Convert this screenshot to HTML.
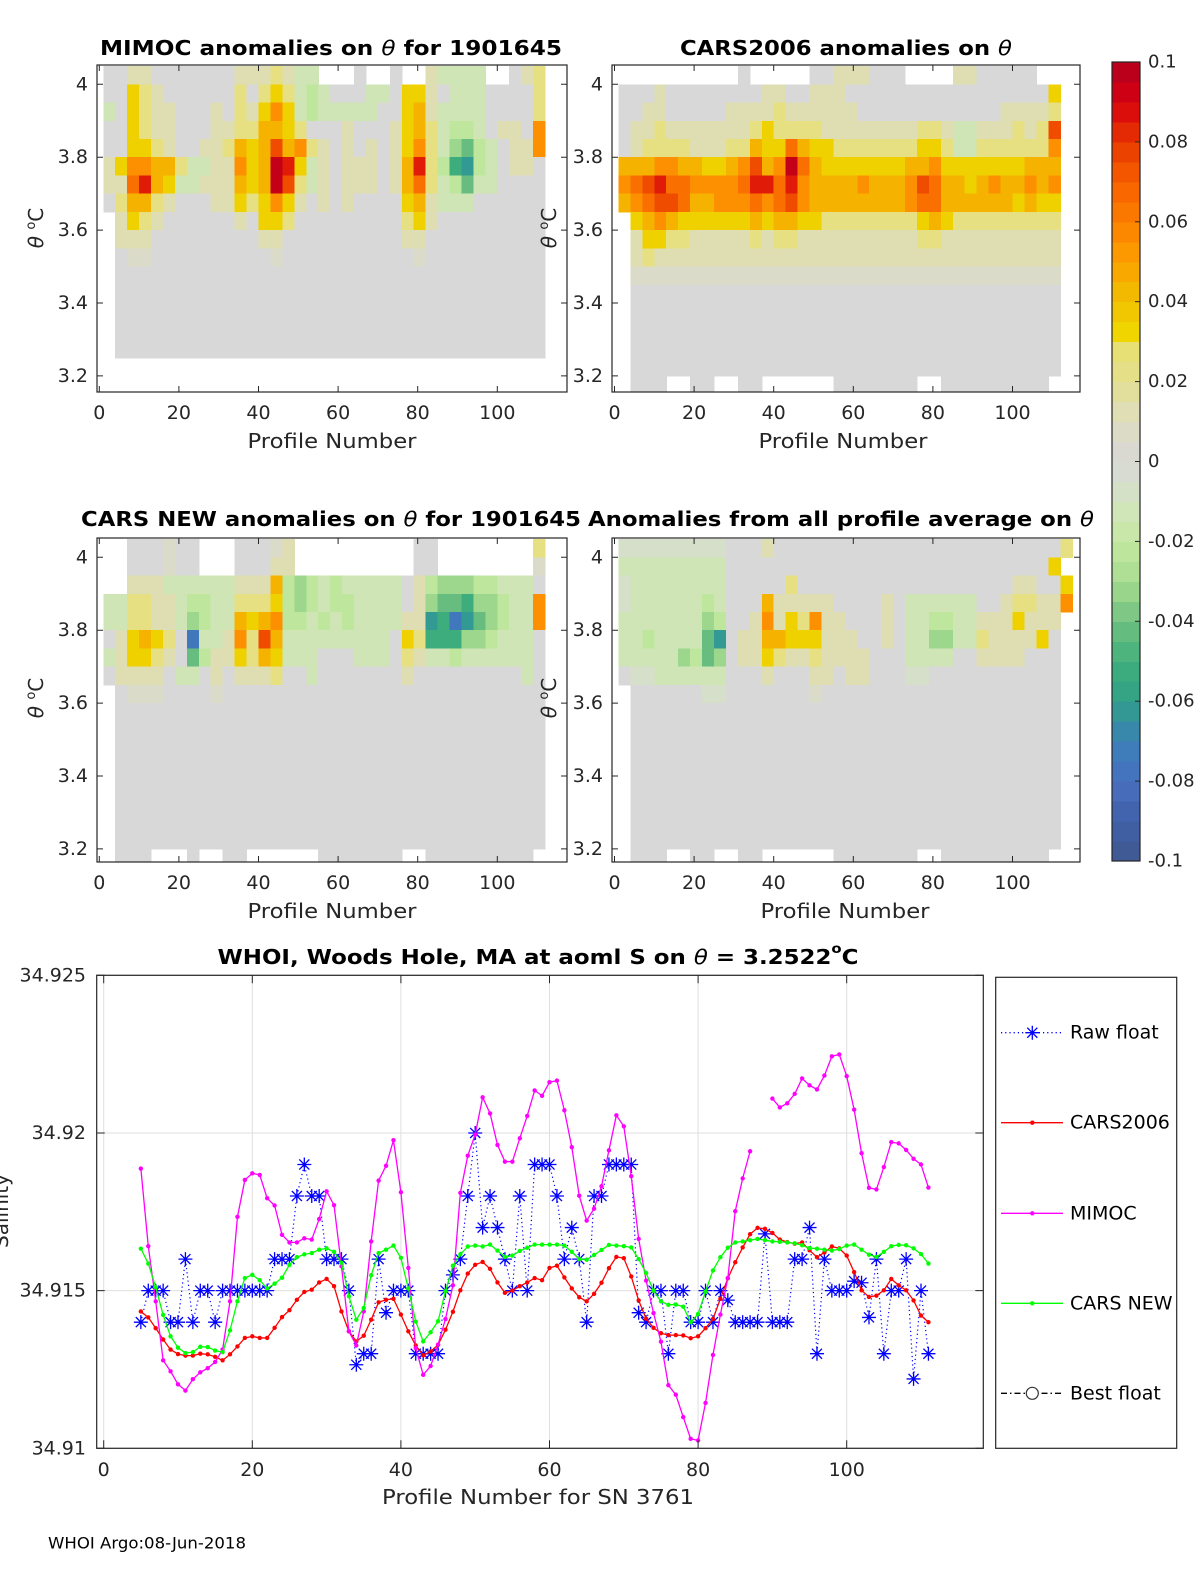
<!DOCTYPE html>
<html><head><meta charset="utf-8"><title>WHOI float 1901645 anomalies</title>
<style>
body{margin:0;background:#fff;}
svg{display:block;font-family:"DejaVu Sans","Liberation Sans",sans-serif;}
.ttl{font-weight:bold;font-size:20px;fill:#000;}
.lbl{font-size:20px;fill:#262626;}
.tick{font-size:19px;fill:#262626;}
</style></head>
<body>
<svg id="fig" xmlns="http://www.w3.org/2000/svg" width="1200" height="1575" viewBox="0 0 1200 1575">
<rect x="0" y="0" width="1200" height="1575" fill="#ffffff"/>
<defs>
<clipPath id="clip-mimoc"><rect x="97" y="65" width="470" height="327"/></clipPath>
<clipPath id="clip-cars2006"><rect x="612" y="65" width="468" height="327"/></clipPath>
<clipPath id="clip-carsnew"><rect x="97" y="538" width="470" height="324"/></clipPath>
<clipPath id="clip-allavg"><rect x="612" y="538" width="468" height="324"/></clipPath>
<clipPath id="clip-sal"><rect x="96.7" y="975.3" width="886.6" height="473"/></clipPath>
</defs>
<g id="heat-layer"></g>
<g id="axes-layer"></g>

<text class="ttl" x="331" y="48" text-anchor="middle" dominant-baseline="central" textLength="462" lengthAdjust="spacingAndGlyphs">MIMOC anomalies on <tspan font-style="italic" font-weight="normal">θ</tspan>  for 1901645</text>
<text class="ttl" x="846" y="48" text-anchor="middle" dominant-baseline="central" textLength="332" lengthAdjust="spacingAndGlyphs">CARS2006 anomalies on <tspan font-style="italic" font-weight="normal">θ</tspan></text>
<text class="ttl" x="331" y="519" text-anchor="middle" dominant-baseline="central" textLength="500" lengthAdjust="spacingAndGlyphs">CARS NEW anomalies on <tspan font-style="italic" font-weight="normal">θ</tspan> for 1901645</text>
<text class="ttl" x="841" y="519" text-anchor="middle" dominant-baseline="central" textLength="506" lengthAdjust="spacingAndGlyphs">Anomalies from all profile average on <tspan font-style="italic" font-weight="normal">θ</tspan></text>

<text class="lbl" x="332" y="441" text-anchor="middle" dominant-baseline="central" textLength="169" lengthAdjust="spacingAndGlyphs">Profile Number</text>
<text class="lbl" x="843" y="441" text-anchor="middle" dominant-baseline="central" textLength="169" lengthAdjust="spacingAndGlyphs">Profile Number</text>
<text class="lbl" x="332" y="911" text-anchor="middle" dominant-baseline="central" textLength="169" lengthAdjust="spacingAndGlyphs">Profile Number</text>
<text class="lbl" x="845" y="911" text-anchor="middle" dominant-baseline="central" textLength="169" lengthAdjust="spacingAndGlyphs">Profile Number</text>

<text class="lbl" transform="translate(43,228) rotate(-90)" text-anchor="middle"><tspan font-style="italic">θ</tspan> <tspan font-size="13" dy="-8">o</tspan><tspan dy="8">C</tspan></text>
<text class="lbl" transform="translate(556,228) rotate(-90)" text-anchor="middle"><tspan font-style="italic">θ</tspan> <tspan font-size="13" dy="-8">o</tspan><tspan dy="8">C</tspan></text>
<text class="lbl" transform="translate(43,698) rotate(-90)" text-anchor="middle"><tspan font-style="italic">θ</tspan> <tspan font-size="13" dy="-8">o</tspan><tspan dy="8">C</tspan></text>
<text class="lbl" transform="translate(556,698) rotate(-90)" text-anchor="middle"><tspan font-style="italic">θ</tspan> <tspan font-size="13" dy="-8">o</tspan><tspan dy="8">C</tspan></text>

<g id="cbar"></g>

<g id="sal-grid"></g>
<g id="sal-series" clip-path="url(#clip-sal)"></g>
<g id="sal-axes"></g>
<text class="ttl" x="538" y="957" text-anchor="middle" dominant-baseline="central" textLength="641" lengthAdjust="spacingAndGlyphs">WHOI, Woods Hole, MA at aoml S on <tspan font-style="italic" font-weight="normal">θ</tspan> = 3.2522<tspan font-size="13" dy="-8">o</tspan><tspan dy="8">C</tspan></text>
<text class="lbl" x="538" y="1497" text-anchor="middle" dominant-baseline="central" textLength="312" lengthAdjust="spacingAndGlyphs">Profile Number for SN 3761</text>
<text class="lbl" transform="translate(8,1211) rotate(-90)" text-anchor="middle">Salinity</text>
<g id="legend"></g>
<text x="48" y="1543" font-size="16" fill="#000" dominant-baseline="central" textLength="198" lengthAdjust="spacingAndGlyphs">WHOI Argo:08-Jun-2018</text>
</svg>

<script>
// ---------- heatmap data (rows: theta bands 4.05→3.15 step 0.05; cols: 3-profile bins from profile 1) ----------
const mimocRows = [
"0011000000011121aa...0..0..1aaaa..012",
"0032100000020232aba000aa03310aaa00002",
"a032110001021353abaaaaa00341aaaa00002",
"003211000112244320001000134 2abba01105".replace(' ',''),
"00332100112434745210101013 52acdba0115".replace(' ',''),
"1355442aa11534983a1011101482befba0110",
"116843aa111434972a1011101462abdaa0000",
"02442100011323531010100003 41aaa000000".replace(' ',''),
".1321000000103320000000002310000000000".slice(0,37),
".111000000000110000000000110000000000",
".0hh0000000000h00000000000h0000000000",
".000000000000000000000000000000000000",
".000000000000000000000000000000000000",
".000000000000000000000000000000000000",
".000000000000000000000000000000000000",
".000000000000000000000000000000000000",
".....................................",
"....................................."
];
const cars2006Rows = [
"..........0.....00111000....1100000..",
"0001000000001100111000000000000000003",
"0011000001111211111100000000000011112",
"011211111112322221111111122 1aa1112127".replace(' ',''),
"01222211122433643322222223 32aa2222225".replace(' ',''),
"4445544334574596433333334453333333444",
"5678665555688685444454445764434544545",
"4567764455565675444444445664444443433",
".345433333343443322222222343222222222",
".133221111121221111111111221111111111",
".121111111111111111111111111111111111",
".hhhhhhhhhhhhhhhhhhhhhhhhhhhhhhhhhhhh",
".000000000000000000000000000000000000",
".000000000000000000000000000000000000",
".000000000000000000000000000000000000",
".000000000000000000000000000000000000",
".000000000000000000000000000000000000",
".000..00..00......0000000..000000000."
];
const carsNewRows = [
"..000h00...000h1..........00........2",
"..000h00...00011..........00........h",
"..111aaaaaa1114bcbabaaaaa01bcccbbaaa0",
"aa2211abbaa2223bcbabbaaaa01cddeccbaa5",
"aa2211acbaa4345bbababaaaa11fegfdcbaa5",
"0134320gaa15274aaaaaaaaa032eeeccbaaa0",
"a133210db113243aaa000aaa021aabaaaaaa0",
"011110aa010111200a00000001000000000a0",
".0hhh0000h000000000000000000000000000",
".000000000000000000000000000000000000",
".000000000000000000000000000000000000",
".000000000000000000000000000000000000",
".000000000000000000000000000000000000",
".000000000000000000000000000000000000",
".000000000000000000000000000000000000",
".000000000000000000000000000000000000",
".000000000000000000000000000000000000",
".000...0..00......0000000..000000000."
];
const allAvgRows = [
"zzzzzzzzz00010000000000000000000000002",
"aaaaaaaaa000000000000000000000000000003".slice(0,36)+"3",
"zaaaaaaaa00000200000000000000000011003",
"zaaaaaaba000411111000010aaaaaa00122115",
"aaaaaaacb001513251100010aabbaa1113111",
"aabaaaadf011443331110010aaccaa2111130",
"aaaaacbdc011321121111000aaaa001111000",
"0zzaaaaaa000100011011000zz00000000000",
".000000zz0000000h00000000000000000000",
".000000000000000000000000000000000000",
".000000000000000000000000000000000000",
".000000000000000000000000000000000000",
".000000000000000000000000000000000000",
".000000000000000000000000000000000000",
".000000000000000000000000000000000000",
".000000000000000000000000000000000000",
".000000000000000000000000000000000000",
".000..00..00......0000000..000000000."
];
const anomalyCodeValues = {'0':0,'h':0.006,'1':0.013,'2':0.024,'3':0.034,'4':0.044,'5':0.055,'6':0.065,'7':0.075,'8':0.085,'9':0.095,
 'z':-0.006,'a':-0.013,'b':-0.022,'c':-0.032,'d':-0.042,'e':-0.052,'f':-0.062,'g':-0.075};
const thetaTicks = [4, 3.8, 3.6, 3.4, 3.2];
const thetaTickLabels = ['4','3.8','3.6','3.4','3.2'];
const profileTicks = [0, 20, 40, 60, 80, 100];
const colorbarTicks = [0.1, 0.08, 0.06, 0.04, 0.02, 0, -0.02, -0.04, -0.06, -0.08, -0.1];
const colorbarTickLabels = ['0.1','0.08','0.06','0.04','0.02','0','-0.02','-0.04','-0.06','-0.08','-0.1'];

// ---------- salinity data (thousandths above 34.91), profiles 5..111 ----------
const salinityBase = 34.91;
const firstProfile = 5;
const rawFloat = [4,5,5,5,4,4,6,4,5,5, 4,5,5,5,5,5,5,5,6,6, 6,8,9,8,8,6,6,6,5,2.65, 3,3,6,4.3,5,5,5,3,3,3,
 3,5,5.5,6,8,10,7,8,7,6, 5,8,5,9,9,9,8,6,7,6, 4,8,8,9,9,9,9,4.3,4,5, 5,3,5,5,4,4,5,4,5,4.7,
 4,4,4,4,6.8,4,4,4,6,6, 7,3,6,5,5,5,5.3,5.25,4.15,6, 3,5,5,6,2.2,5,3];
const cars2006 = [4.34,4.15,3.81,3.45,3.13,2.99,2.94,2.94,3.0,2.98, 2.9,2.79,2.98,3.23,3.5,3.55,3.5,3.5,3.82,4.16,
 4.38,4.71,4.96,5.03,5.26,5.37,5.14,4.34,3.71,3.39, 3.57,4.08,4.63,4.71,4.74,4.24,3.71,3.26,2.95,3.07,
 3.28,3.76,4.33,5.01,5.54,5.82,5.91,5.69,5.26,4.93, 5.0,5.14,5.26,5.4,5.33,5.72,5.79,5.42,5.07,4.79,
 4.66,4.9,5.25,5.71,6.07,6.03,5.45,4.69,4.11,3.82, 3.65,3.59,3.59,3.58,3.49,3.55,3.81,4.1,4.74,5.39,
 5.9,6.37,6.79,6.99,6.96,6.83,6.62,6.54,6.49,6.53, 6.28,6.06,6.21,6.4,6.34,6.11,5.59,5.01,4.8,4.84,
 5.01,5.37,5.17,5.01,4.69,4.21,4.0];
const mimoc = [8.87,6.41,4.66,2.79,2.44,2.03,1.83,2.19,2.41,2.54, 2.74,3.13,4.66,7.34,8.51,8.72,8.67,7.93,7.7,6.77,
 6.53,6.53,6.66,6.62,7.27,8.15,7.71,5.77,3.71,3.26, 4.34,6.56,8.49,8.96,9.77,8.12,5.72,3.18,2.33,2.61,
 3.29,4.1,5.17,8.1,9.28,9.95,11.13,10.62,9.62,9.09, 9.09,9.83,10.54,11.35,11.18,11.61,11.66,10.72,9.55,8.01,
 7.22,7.6,8.31,9.45,10.56,10.21,8.63,6.64,5.32,4.29, 3.38,2.0,1.7,0.99,0.30,0.25,1.44,2.96,4.24,5.4,
 7.52,8.56,9.42,null,null,11.09,10.81,10.94,11.24,11.73, 11.51,11.38,11.82,12.43,12.49,11.8,10.74,9.36,8.26,8.21,
 8.92,9.71,9.67,9.46,9.18,9.0,8.27];
const carsNew = [6.33,5.86,5.11,4.23,3.55,3.19,3.02,3.05,3.22,3.21, 3.1,3.05,3.74,4.66,5.4,5.5,5.33,5.07,5.22,5.41,
 5.82,6.06,6.15,6.19,6.3,6.34,6.23,5.88,4.82,4.08, 4.45,5.49,6.19,6.3,6.43,6.04,5.07,4.02,3.39,3.68,
 4.03,4.98,5.79,6.15,6.4,6.43,6.4,6.46,6.27,6.07, 6.11,6.26,6.36,6.46,6.46,6.46,6.46,6.43,6.23,6.0,
 5.98,6.13,6.29,6.45,6.43,6.41,6.37,6.0,5.56,5.0, 4.66,4.55,4.56,4.49,4.0,4.26,4.97,5.64,6.06,6.36,
 6.53,6.56,6.6,6.64,6.6,6.56,6.55,6.53,6.5,6.44, 6.35,6.33,6.3,6.27,6.32,6.43,6.46,6.3,6.14,6.07,
 6.23,6.41,6.45,6.44,6.34,6.16,5.86];
const salTicks = [34.925, 34.92, 34.915, 34.91];
const salTickLabels = ['34.925','34.92','34.915','34.91'];
const legendLabels = ['Raw float','CARS2006','MIMOC','CARS NEW','Best float'];

const NS = 'http://www.w3.org/2000/svg';
function mk(tag, attrs, parent){ const e = document.createElementNS(NS, tag); for (const k in attrs) e.setAttribute(k, attrs[k]); parent.appendChild(e); return e; }

const cmapStops = [[-0.1,'#405890'],[-0.09,'#4060a8'],[-0.08,'#4870c0'],[-0.07,'#3a80b8'],[-0.06,'#30a088'],[-0.05,'#40b07a'],
 [-0.04,'#70c080'],[-0.03,'#a8dc90'],[-0.02,'#c4e8a0'],[-0.01,'#d4e4c0'],[0,'#d8d8d8'],[0.01,'#ddddc0'],[0.02,'#e4e090'],
 [0.029,'#e8e070'],[0.03,'#f0dc00'],[0.04,'#f0c000'],[0.05,'#fca000'],[0.06,'#fc8000'],[0.07,'#f86000'],[0.08,'#e83800'],
 [0.09,'#d80010'],[0.1,'#b0001f']];
function hex2rgb(h){ return [parseInt(h.substr(1,2),16),parseInt(h.substr(3,2),16),parseInt(h.substr(5,2),16)]; }
function cmap(v){
  v = Math.max(-0.1, Math.min(0.1, v));
  for (let i = 0; i < cmapStops.length - 1; i++) {
    const a = cmapStops[i], b = cmapStops[i+1];
    if (v >= a[0] && v <= b[0]) {
      const t = (v - a[0]) / (b[0] - a[0]); const ca = hex2rgb(a[1]), cb = hex2rgb(b[1]);
      return 'rgb(' + ca.map((c,k) => Math.round(c + (cb[k]-c)*t)).join(',') + ')';
    }
  }
  return cmapStops[cmapStops.length-1][1];
}

const heatLayer = document.getElementById('heat-layer');
const axesLayer = document.getElementById('axes-layer');
const PPU = 3.98, PPT = 364.5;
const panels = [
  {key:'mimoc', rows:mimocRows, x0:97, x1:567, y0:65, y1:392, zx:99.3, y4:84.3, labelX:88, xlabY:413},
  {key:'cars2006', rows:cars2006Rows, x0:612, x1:1080, y0:65, y1:392, zx:614.5, y4:84.3, labelX:603, xlabY:413},
  {key:'carsnew', rows:carsNewRows, x0:97, x1:567, y0:538, y1:862, zx:99.3, y4:557.3, labelX:88, xlabY:883},
  {key:'allavg', rows:allAvgRows, x0:612, x1:1080, y0:538, y1:862, zx:614.5, y4:557.3, labelX:603, xlabY:883}
];
panels.forEach(P => {
  const xs = p => P.zx + p * PPU;
  const ys = th => P.y4 + (4 - th) * PPT;
  const g = mk('g', {'clip-path':'url(#clip-' + P.key + ')', 'shape-rendering':'crispEdges'}, heatLayer);
  
  
  P.rows.forEach((row, r) => {
    for (let c = 0; c < row.length; c++) {
      const ch = row[c];
      if (!(ch in anomalyCodeValues)) continue;
      const xa = xs(1 + 3*c), xb = xs(4 + 3*c);
      const ya = ys(4.05 - 0.05*r), yb = ys(4.0 - 0.05*r);
      const cell = mk('rect', {x:xa.toFixed(2), y:ya.toFixed(2), width:(xb-xa+0.6).toFixed(2), height:(yb-ya+0.6).toFixed(2), fill:cmap(anomalyCodeValues[ch])}, g);
      
      
    }
  });
  const frame = mk('rect', {x:P.x0, y:P.y0, width:P.x1-P.x0, height:P.y1-P.y0, fill:'none', stroke:'#262626', 'stroke-width':1.2}, axesLayer);
  
  
  thetaTicks.forEach((t, i) => {
    const y = ys(t);
    const tk = mk('path', {d:'M'+P.x0+','+y+'h6M'+P.x1+','+y+'h-6', stroke:'#262626', 'stroke-width':1}, axesLayer);
    
    
    const lb = mk('text', {x:P.labelX, y:y, 'text-anchor':'end', 'dominant-baseline':'central', class:'tick'}, axesLayer);
    lb.textContent = thetaTickLabels[i];
    
    
  });
  profileTicks.forEach(p => {
    const x = xs(p);
    const tk = mk('path', {d:'M'+x+','+P.y1+'v-6M'+x+','+P.y0+'v6', stroke:'#262626', 'stroke-width':1}, axesLayer);
    
    
    const lb = mk('text', {x:x, y:P.xlabY, 'text-anchor':'middle', 'dominant-baseline':'central', class:'tick'}, axesLayer);
    lb.textContent = String(p);
    
    
  });
});

// ---------- colorbar ----------
const cbar = document.getElementById('cbar');
const CB = {x0:1112, x1:1140, y0:62, y1:861};
const cbY = v => CB.y0 + (0.1 - v) / 0.2 * (CB.y1 - CB.y0);
for (let k = 0; k < 40; k++) {
  const lo = -0.1 + k*0.005, hi = lo + 0.005;
  const seg = mk('rect', {x:CB.x0, y:cbY(hi).toFixed(2), width:CB.x1-CB.x0, height:(cbY(lo)-cbY(hi)+0.5).toFixed(2), fill:cmap(lo+0.0025), 'shape-rendering':'crispEdges'}, cbar);
  
  
}
const cbFrame = mk('rect', {x:CB.x0, y:CB.y0, width:CB.x1-CB.x0, height:CB.y1-CB.y0, fill:'none', stroke:'#262626', 'stroke-width':1.2}, cbar);


colorbarTicks.forEach((v, i) => {
  const y = cbY(v);
  const tk = mk('path', {d:'M'+CB.x1+','+y+'h-5', stroke:'#262626', 'stroke-width':1}, cbar);
  
  
  const lb = mk('text', {x:1148, y:y, 'dominant-baseline':'central', 'font-size':18, fill:'#262626'}, cbar);
  lb.textContent = colorbarTickLabels[i];
  
  
});

// ---------- salinity chart ----------
const SB = {x0:96.7, x1:983.3, y0:975.3, y1:1448.3};
const sx = p => 103.7 + 7.43 * p;
const sy = s => SB.y0 + (34.925 - s) / 0.015 * (SB.y1 - SB.y0);
const salGrid = document.getElementById('sal-grid');
const salAxes = document.getElementById('sal-axes');
profileTicks.forEach(p => {
  const gl = mk('line', {x1:sx(p), x2:sx(p), y1:SB.y0, y2:SB.y1, stroke:'#dfdfdf', 'stroke-width':1}, salGrid);
  
  
  const tk = mk('path', {d:'M'+sx(p)+','+SB.y1+'v-8M'+sx(p)+','+SB.y0+'v8', stroke:'#262626', 'stroke-width':1}, salAxes);
  
  
  const lb = mk('text', {x:sx(p), y:1470, 'text-anchor':'middle', 'dominant-baseline':'central', class:'tick'}, salAxes);
  lb.textContent = String(p);
  
  
});
salTicks.forEach((s, i) => {
  const y = sy(s);
  const gl = mk('line', {x1:SB.x0, x2:SB.x1, y1:y, y2:y, stroke:'#dfdfdf', 'stroke-width':1}, salGrid);
  
  
  const tk = mk('path', {d:'M'+SB.x0+','+y+'h8M'+SB.x1+','+y+'h-8', stroke:'#262626', 'stroke-width':1}, salAxes);
  
  
  const lb = mk('text', {x:86, y:y, 'text-anchor':'end', 'dominant-baseline':'central', class:'tick'}, salAxes);
  lb.textContent = salTickLabels[i];
  
  
});
const salFrame = mk('rect', {x:SB.x0, y:SB.y0, width:SB.x1-SB.x0, height:SB.y1-SB.y0, fill:'none', stroke:'#262626', 'stroke-width':1.2}, salAxes);



const salSeries = document.getElementById('sal-series');
function pathFor(vals){
  let d = '', pen = false;
  vals.forEach((v, i) => {
    if (v === null) { pen = false; return; }
    const x = sx(firstProfile + i), y = sy(salinityBase + v/1000);
    d += (pen ? 'L' : 'M') + x.toFixed(2) + ',' + y.toFixed(2);
    pen = true;
  });
  return d;
}
function asterisk(x, y, r){ const q = r*0.72; return 'M'+(x-r)+','+y+'h'+(2*r)+'M'+x+','+(y-r)+'v'+(2*r)+'M'+(x-q)+','+(y-q)+'l'+(2*q)+','+(2*q)+'M'+(x-q)+','+(y+q)+'l'+(2*q)+','+(-2*q); }

// raw float
const rawLine = mk('path', {d:pathFor(rawFloat), fill:'none', stroke:'#0000ff', 'stroke-width':1.2, 'stroke-dasharray':'1.2,3'}, salSeries);


rawFloat.forEach((v, i) => {
  const m = mk('path', {d:asterisk(sx(firstProfile+i), sy(salinityBase+v/1000), 7), stroke:'#0000ff', 'stroke-width':1.3, fill:'none'}, salSeries);
  
  
});
[[cars2006,'#ff0000','cars2006'],[mimoc,'#ff00ff','mimoc'],[carsNew,'#00ff00','cars-new']].forEach(([vals, col, nm]) => {
  const ln = mk('path', {d:pathFor(vals), fill:'none', stroke:col, 'stroke-width':1.3}, salSeries);
  
  
  vals.forEach((v, i) => {
    if (v === null) return;
    const dot = mk('circle', {cx:sx(firstProfile+i).toFixed(2), cy:sy(salinityBase+v/1000).toFixed(2), r:2.2, fill:col}, salSeries);
    
    
  });
});

// ---------- legend ----------
const legend = document.getElementById('legend');
const lgBox = mk('rect', {x:995.7, y:977.3, width:181, height:471, fill:'#fff', stroke:'#262626', 'stroke-width':1.2}, legend);


const lgY = [1032.7, 1122.7, 1213.3, 1303.3, 1393.3];
const lgStyles = [
  {stroke:'#0000ff', dash:'1.2,3'}, {stroke:'#ff0000', dash:''}, {stroke:'#ff00ff', dash:''}, {stroke:'#00ff00', dash:''}, {stroke:'#000000', dash:'6,3,1.5,3'}
];
legendLabels.forEach((lab, i) => {
  const y = lgY[i], st = lgStyles[i];
  const entry = mk('g', {}, legend);
  
  
  const ln = mk('line', {x1:1001, x2:1063, y1:y, y2:y, stroke:st.stroke, 'stroke-width':1.3}, entry);
  if (st.dash) ln.setAttribute('stroke-dasharray', st.dash);
  
  
  let mkr;
  if (i === 0) mkr = mk('path', {d:asterisk(1032.3, y, 7), stroke:'#0000ff', 'stroke-width':1.3, fill:'none'}, entry);
  else if (i === 4) mkr = mk('circle', {cx:1032.3, cy:y, r:6, fill:'#fff', stroke:'#333', 'stroke-width':1.2}, entry);
  else mkr = mk('circle', {cx:1032.3, cy:y, r:2.2, fill:st.stroke}, entry);
  
  
  const tx = mk('text', {x:1070, y:y, 'dominant-baseline':'central', 'font-size':19, fill:'#000'}, entry);
  tx.textContent = lab;
  
  
});
</script>
</body></html>
